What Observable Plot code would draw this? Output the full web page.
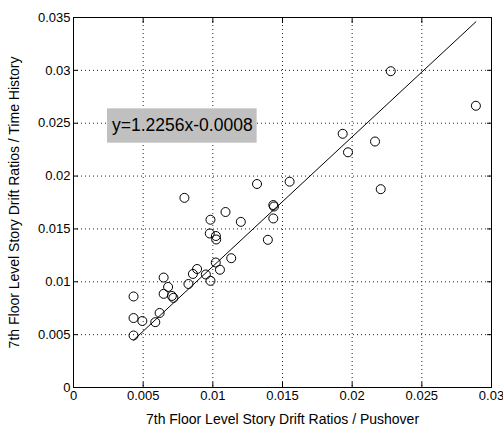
<!DOCTYPE html>
<html>
<head>
<meta charset="utf-8">
<script src="https://cdn.jsdelivr.net/npm/d3@7"></script>
<script src="https://cdn.jsdelivr.net/npm/@observablehq/plot@0.6"></script>
<style>
  html, body { margin: 0; padding: 0; background: #fff; }
</style>
</head>
<body>
<div id="chart"></div>
<script>
// Data
const pushover = [0.00431, 0.00431, 0.00494, 0.00431, 0.00587, 0.00618, 0.00647, 0.00679, 0.00647, 0.00706,
  0.00717, 0.00796, 0.00825, 0.00857, 0.00887, 0.00950, 0.00983, 0.00983, 0.00978, 0.01022,
  0.01024, 0.01021, 0.01051, 0.01091, 0.01132, 0.01201, 0.01317, 0.01395, 0.01434, 0.01434,
  0.01439, 0.01551, 0.01932, 0.01970, 0.02164, 0.02205, 0.02277, 0.02888];
const timeHistory = [0.00861, 0.00657, 0.00629, 0.00492, 0.00618, 0.00705, 0.01040, 0.00951, 0.00886, 0.00866,
  0.00848, 0.01794, 0.00979, 0.01074, 0.01121, 0.01069, 0.01009, 0.01587, 0.01457, 0.01433,
  0.01400, 0.01182, 0.01114, 0.01660, 0.01223, 0.01567, 0.01925, 0.01397, 0.01599, 0.01726,
  0.01712, 0.01947, 0.02400, 0.02225, 0.02327, 0.01876, 0.02992, 0.02665];
const slope = 1.2256;
const intercept = -0.0008;
const equationLabel = "y=1.2256x-0.0008";
const xTicks = [0, 0.005, 0.01, 0.015, 0.02, 0.025, 0.03];
const yTicks = [0, 0.005, 0.01, 0.015, 0.02, 0.025, 0.03, 0.035];
const xLabel = "7th Floor Level Story Drift Ratios / Pushover";
const yLabel = "7th Floor Level Story Drift Ratios / Time History";

const points = pushover.map((x, i) => ({x, y: timeHistory[i]}));
const [xmin, xmax] = d3.extent(pushover);
const fit = [xmin, xmax].map(x => ({x, y: slope * x + intercept}));
// annotation anchor (data coordinates, like MATLAB text(x,y,...))
const ann = {x: 0.00781, y: 0.02478, text: equationLabel};
const annBox = {x1: 0.00244, x2: 0.01318, y1: 0.02311, y2: 0.02636};
const fmt = d => String(+d.toFixed(3));
const none = () => "";

const chart = Plot.plot({
  width: 503,
  height: 426,
  marginLeft: 73,
  marginRight: 12,
  marginTop: 17,
  marginBottom: 39,
  x: {domain: [0, 0.03]},
  y: {domain: [0, 0.035]},
  style: {fontFamily: "'Liberation Sans', Arial, sans-serif", fontSize: "13px", color: "#000", background: "#fff"},
  marks: [
    Plot.gridX(xTicks.slice(1, -1), {stroke: "#222", strokeOpacity: 1, strokeDasharray: "1,3"}),
    Plot.gridY(yTicks.slice(1, -1), {stroke: "#222", strokeOpacity: 1, strokeDasharray: "1,3"}),
    Plot.rect([annBox], {x1: "x1", x2: "x2", y1: "y1", y2: "y2", fill: "#c0c0c0"}),
    Plot.text([ann], {x: "x", y: "y", text: "text", fontSize: 17.5, fill: "#000"}),
    Plot.line(fit, {x: "x", y: "y", stroke: "#000", strokeWidth: 1}),
    Plot.dot(points, {x: "x", y: "y", r: 4.5, stroke: "#000", strokeWidth: 1, fill: "none"}),
    Plot.frame({stroke: "#000"}),
    Plot.axisX({ticks: xTicks, tickSize: -5, tickPadding: 8, tickFormat: fmt, fontSize: 13, label: null}),
    Plot.axisX({ticks: [], label: xLabel, labelAnchor: "center", labelArrow: "none", labelOffset: 36, fontSize: 14}),
    Plot.axisX({anchor: "top", ticks: xTicks, tickSize: -5, tickFormat: none, label: null}),
    Plot.axisY({ticks: yTicks, tickSize: -5, tickPadding: 8, tickFormat: fmt, fontSize: 13, label: null}),
    Plot.axisY({ticks: [], label: yLabel, labelAnchor: "center", labelArrow: "none", labelOffset: 64, fontSize: 14}),
    Plot.axisY({anchor: "right", ticks: yTicks, tickSize: -5, tickFormat: none, label: null})
  ]
});
document.getElementById("chart").appendChild(chart);
</script>
</body>
</html>
